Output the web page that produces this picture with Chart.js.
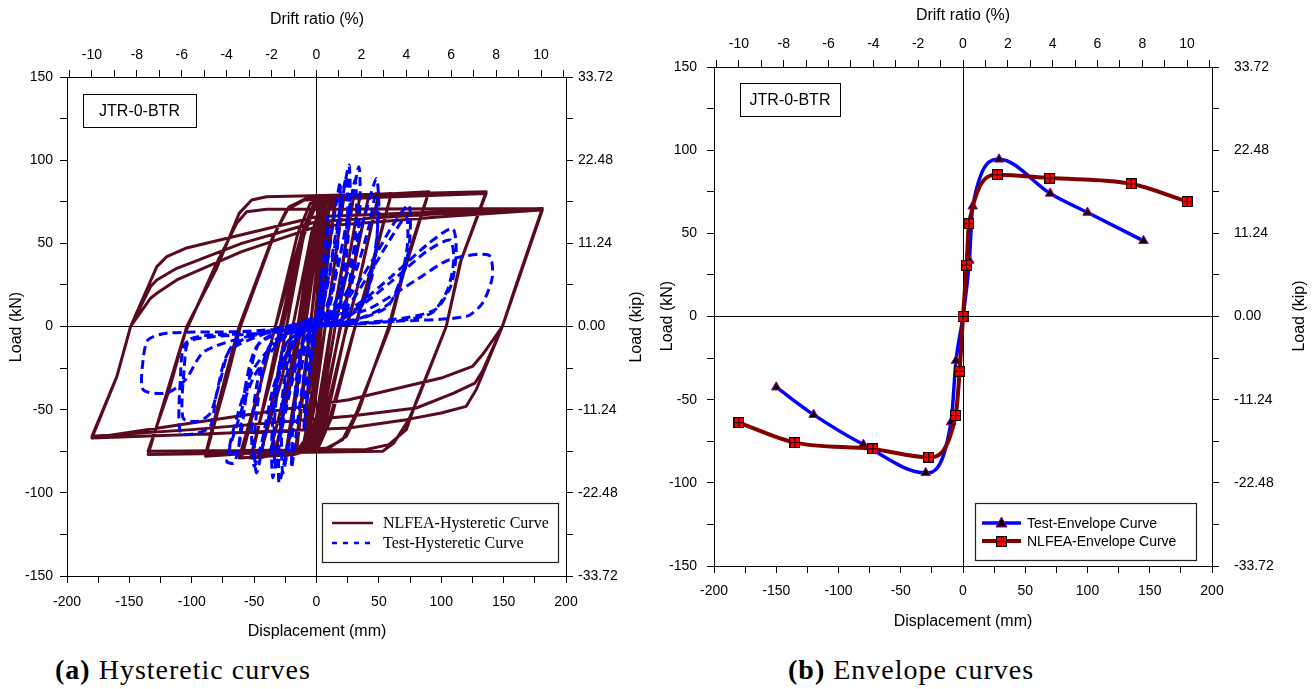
<!DOCTYPE html>
<html>
<head>
<meta charset="utf-8">
<script src="https://cdn.jsdelivr.net/npm/chart.js@4.4.1/dist/chart.umd.min.js"></script>
<style>
body { margin: 0; background: #fff; width: 1314px; height: 689px; position: relative; overflow: hidden; }
canvas { position: absolute; top: 0; }
#hyst { left: 0; }
#env { left: 655px; }
.cap { position: absolute; top: 654px; font-family: "Times New Roman", "Liberation Serif", serif; font-size: 28px; letter-spacing: 1px; color: #000; white-space: nowrap; }
</style>
</head>
<body>
<canvas id="hyst" width="655" height="650"></canvas>
<canvas id="env" width="659" height="650"></canvas>
<div class="cap" style="left:55px"><b>(a)</b> Hysteretic curves</div>
<div class="cap" style="left:788px"><b>(b)</b> Envelope curves</div>
<script>
// axis ticks
const dispTicks = [-200, -175, -150, -125, -100, -75, -50, -25, 0, 25, 50, 75, 100, 125, 150, 175, 200];
const dispLabels = [-200, -150, -100, -50, 0, 50, 100, 150, 200];
const loadTicks = [-150, -125, -100, -75, -50, -25, 0, 25, 50, 75, 100, 125, 150];
const loadLabels = [-150, -100, -50, 0, 50, 100, 150];
const driftTicks = [-11, -10, -9, -8, -7, -6, -5, -4, -3, -2, -1, 0, 1, 2, 3, 4, 5, 6, 7, 8, 9, 10, 11];
const driftLabels = [-10, -8, -6, -4, -2, 0, 2, 4, 6, 8, 10];
const kipTicks = [-33.72, -28.10, -22.48, -16.86, -11.24, -5.62, 0, 5.62, 11.24, 16.86, 22.48, 28.10, 33.72];
const kipLabels = [-33.72, -22.48, -11.24, 0, 11.24, 22.48, 33.72];
const mmPerDrift = 18;      // 10 % drift = 180 mm
const kipMax = 33.72;       // 150 kN

// (a) hysteretic curves, [displacement mm, load kN] in loading order
const nlfeaHyst = [
  [0,0],[3,25],[6,40],[3,15],[0,-5],[-3,-25],[-6,-40],
  [-3,-15],[0,5],[5,45],[10,62],[6,35],[2,0],[-3,-38],[-10,-62],
  [-6,-30],[-2,0],[5,50],[10,70],[15,75],[9,40],[4,0],[-3,-48],[-8,-68],[-16,-75],
  [-10,-35],[-5,0],[2,48],[7,68],[15,76],[8,35],[3,-5],[-5,-50],[-10,-69],[-17,-76],
  [-10,-30],[-5,0],[3,50],[9,71],[22,78],[13,30],[7,0],[-2,-50],[-8,-70],[-24,-78],
  [-15,-35],[-10,0],[-1,52],[5,72],[22,78],[12,25],[6,-5],[-4,-52],[-10,-71],[-25,-78],
  [-15,-30],[-9,0],[1,52],[8,73],[30,79],[19,28],[12,0],[2,-52],[-5,-71],[-33,-78],
  [-22,-33],[-15,0],[-4,55],[3,73],[30,79],[18,25],[11,-3],[0,-54],[-8,-72],[-34,-78],
  [-20,-32],[-12,0],[0,56],[7,74],[35,79],[23,28],[15,0],[3,-54],[-6,-72],[-38,-78],
  [-22,-30],[-14,0],[-2,55],[7,74],[42,79],[28,30],[19,0],[5,-55],[-4,-72],[-45,-79],
  [-32,-32],[-24,0],[-10,56],[-1,74],[42,79],[27,25],[18,-5],[3,-57],[-6,-73],[-46,-79],
  [-28,-32],[-19,0],[-4,56],[5,74],[50,80],[34,27],[24,0],[8,-56],[-2,-73],[-52,-79],
  [-38,-32],[-29,0],[-12,56],[-2,74],[50,80],[33,24],[23,-4],[6,-57],[-4,-73],[-53,-79],
  [-36,-30],[-27,0],[-10,55],[0,74],[18,78],[60,80],[42,30],[31,0],[12,-55],[2,-72],[-15,-76],[-60,-79],
  [-44,-32],[-33,0],[-15,56],[-5,74],[12,78],[60,80],[41,25],[29,-5],[10,-57],[0,-73],[-18,-77],[-62,-79],
  [-45,-35],[-33,0],[-14,50],[-4,70],[10,77],[90,81],[70,35],[58,0],[34,-50],[24,-66],[10,-73],[-89,-78],
  [-72,-32],[-61,0],[-34,55],[-22,72],[-8,77],[90,81],[69,30],[58,-2],[32,-52],[21,-68],[6,-74],[-89,-77],
  [-73,-30],[-62,0],[-36,52],[-24,70],[-10,76],[136,80],[116,40],[104,0],[80,-45],[72,-62],[58,-71],[40,-74],[-135,-75],
  [-118,-38],[-104,0],[-80,35],[-62,68],[-52,76],[-40,78],[136,81],[115,38],[104,0],[82,-42],[74,-56],[62,-70],[53,-75],[-135,-77],
  [-106,-5],[-82,35],[-64,62],[-56,69],[-40,70.5],[181,71],
  [160,25],[149,0],[133,-17],[125,-24],[100,-31],[26,-44],[-100,-58],[-180,-67],
  [-160,-30],[-149,0],[-128,36],[-120,42],[-105,47],[0,66],[100,69],[181,71],
  [160,25],[149,0],[133,-27],[127,-34],[110,-40],[80,-49],[26,-54],[-100,-62],[-180,-66],
  [-160,-30],[-149,0],[-133,24],[-128,28],[-112,35],[-60,50],[0,63],[100,68],[181,70],
  [160,24],[149,0],[128,-38],[120,-48],[100,-52],[72,-56],[26,-61],[-100,-65],[-180,-67],
  [-160,-30],[-149,0],[-133,17],[-128,20],[-112,28],[-60,45],[0,60],[100,66],[180,70]
];
const testHyst = [
  [0,0],[2,15],[4,34],[3,20],[0,3],[-2,-10],[-5,-26],[-4,-12],[0,0],
  [3,20],[7,50],[9,66],[8,40],[4,10],[0,0],[-4,-20],[-8,-48],[-10,-63],[-9,-40],[-5,-10],[0,0],
  [4,15],[10,45],[16,75],[19,87],[18,60],[14,25],[8,6],[0,0],[-6,-12],[-13,-45],[-18,-75],[-20,-85],[-19,-60],[-15,-25],[-8,-6],[0,2],
  [6,15],[14,45],[21,78],[26,97],[27,80],[25,50],[20,20],[12,6],[0,1],[-8,-10],[-16,-40],[-24,-75],[-30,-94],[-30,-70],[-27,-40],[-20,-12],[-8,-2],[0,3],
  [5,12],[12,40],[19,72],[24,90],[25,70],[22,40],[17,15],[10,4],[0,0],[-8,-10],[-15,-38],[-22,-70],[-27,-88],[-28,-65],[-25,-35],[-18,-10],[-8,-2],[0,3],
  [8,12],[18,40],[28,75],[34,96],[35,75],[32,45],[26,18],[15,5],[0,0],[-10,-8],[-20,-35],[-30,-70],[-35,-91],[-36,-70],[-33,-40],[-26,-12],[-12,-2],[0,4],
  [8,10],[17,35],[26,70],[31,88],[32,68],[29,40],[23,15],[13,4],[0,0],[-10,-7],[-20,-30],[-29,-65],[-33,-85],[-34,-62],[-31,-35],[-24,-10],[-10,-2],[0,4],
  [12,10],[26,35],[40,70],[48,89],[50,70],[46,40],[38,15],[22,5],[0,0],[-15,-6],[-30,-30],[-42,-68],[-48,-88],[-50,-70],[-46,-40],[-38,-12],[-20,-2],[0,5],
  [15,10],[30,30],[42,60],[47,78],[49,60],[45,32],[36,12],[20,4],[0,0],[-18,-8],[-34,-35],[-44,-70],[-50,-84],[-52,-62],[-47,-32],[-36,-10],[-18,-2],[0,5],
  [20,12],[45,40],[62,62],[74,73],[75,55],[71,35],[60,15],[35,5],[0,0],[-25,-6],[-50,-30],[-65,-62],[-72,-81],[-66,-82],[-62,-70],[-58,-40],[-48,-12],[-25,-2],[0,6],
  [22,10],[45,35],[62,56],[72,66],[73,50],[68,30],[57,12],[32,4],[0,0],[-25,-5],[-50,-25],[-64,-55],[-70,-75],[-64,-76],[-60,-62],[-55,-35],[-46,-10],[-25,-2],[0,5],
  [30,12],[60,30],[90,50],[109,59],[112,45],[108,25],[95,10],[60,4],[0,0],[-40,-4],[-80,-6],[-105,-10],[-109,-30],[-109,-64],[-95,-64],[-85,-60],[-80,-40],[-70,-15],[-40,-4],[0,5],
  [30,10],[60,27],[88,45],[107,52],[110,40],[105,22],[92,8],[60,3],[0,0],[-40,-4],[-80,-5],[-102,-8],[-106,-25],[-107,-55],[-95,-57],[-85,-52],[-78,-35],[-68,-12],[-40,-3],[0,4],
  [40,10],[80,28],[106,40],[138,43],[141,30],[133,14],[120,6],[60,3],[0,0],[-60,-3],[-120,-4],[-135,-8],[-139,-20],[-139,-38],[-120,-40],[-105,-32],[-90,-15],[-50,-5],[0,2]
];

// (b) envelope curves
const testEnvDisp = [-150, -120, -80, -30, -9.6, -5.6, 0, 5.1, 7.8, 29, 70, 100, 145];
const testEnvLoad = [-42.5, -59, -77, -94, -63.5, -26.5, 0, 33.7, 66.3, 94.5, 74, 62.5, 45.5];
const nlfeaEnvDisp = [-180, -135, -72.5, -27.5, -5.9, -2.7, 0, 2.9, 4.8, 27.6, 69.7, 135, 180];
const nlfeaEnvLoad = [-63.8, -75.8, -79.6, -84.6, -59.5, -32.9, 0, 30.9, 55.8, 85.2, 83.2, 79.8, 69.1];

const SANS = 'Arial, "Liberation Sans", sans-serif';
const SERIF = '"Times New Roman", "Liberation Serif", serif';
const MAROON = "#5a0a1e";
const DARKRED = "#800000";
const BLUE = "#0000ff";

const toPoints = (xs, ys) => xs.map((x, i) => ({ x: x, y: ys[i] }));
const pairs = list => list.map(p => ({ x: p[0], y: p[1] }));

function squareMarker() {
    const c = document.createElement("canvas");
    c.width = 11; c.height = 11;
    const g = c.getContext("2d");
    g.fillStyle = "#ff0000";
    g.fillRect(0, 0, 11, 11);
    g.strokeStyle = "#000";
    g.lineWidth = 1;
    g.strokeRect(0.5, 0.5, 10, 10);
    g.beginPath();
    g.moveTo(5.5, 1); g.lineTo(5.5, 10);
    g.moveTo(1, 5.5); g.lineTo(10, 5.5);
    g.stroke();
    return c;
}
const squareImg = squareMarker();

function fixedTicks(values) {
    return scale => { scale.ticks = values.map(v => ({ value: v })); };
}

function buildScales(o) {
    const tickFont = { family: SANS, size: 14 };
    const zeroLine = c => (c.tick && Math.abs(c.tick.value) < 1e-9) ? "#000" : "rgba(0,0,0,0)";
    const border = { display: true, color: "#000", width: 1 };
    return {
        x: {
            type: "linear", position: "bottom", min: -200, max: 200,
            afterBuildTicks: fixedTicks(dispTicks),
            afterFit: s => { s.height = o.bottom; },
            ticks: { autoSkip: false, maxRotation: 0, padding: o.padBottom, color: "#000", font: tickFont,
                callback: v => dispLabels.includes(v) ? String(v) : "" },
            grid: { drawOnChartArea: true, color: zeroLine, tickColor: "#000", tickLength: 7, lineWidth: 1 },
            border: border
        },
        x2: {
            type: "linear", position: "top", min: -200 / mmPerDrift, max: 200 / mmPerDrift,
            afterBuildTicks: fixedTicks(driftTicks),
            afterFit: s => { s.height = o.top; },
            ticks: { autoSkip: false, maxRotation: 0, padding: o.padTop, color: "#000", font: tickFont,
                callback: v => driftLabels.includes(v) ? String(v) : "" },
            grid: { drawOnChartArea: false, tickColor: "#000", tickLength: 7, lineWidth: 1 },
            border: border
        },
        y: {
            type: "linear", position: "left", min: -150, max: 150,
            afterBuildTicks: fixedTicks(loadTicks),
            afterFit: s => { s.width = o.left; },
            ticks: { autoSkip: false, padding: o.padLeft, color: "#000", font: tickFont,
                callback: v => loadLabels.includes(v) ? String(v) : "" },
            grid: { drawOnChartArea: true, color: zeroLine, tickColor: "#000", tickLength: 7, lineWidth: 1 },
            border: border
        },
        y2: {
            type: "linear", position: "right", min: -kipMax, max: kipMax,
            afterBuildTicks: fixedTicks(kipTicks),
            afterFit: s => { s.width = o.right; },
            ticks: { autoSkip: false, padding: o.padRight, color: "#000", font: tickFont,
                callback: v => kipLabels.includes(v) ? v.toFixed(2) : "" },
            grid: { drawOnChartArea: false, tickColor: "#000", tickLength: 7, lineWidth: 1 },
            border: border
        }
    };
}

// titles, the specimen tag and the legend box
const overlay = {
    id: "overlay",
    afterDraw(chart, args, o) {
        const g = chart.ctx;
        g.save();
        g.fillStyle = "#000";
        g.textAlign = "center";
        g.textBaseline = "middle";
        g.font = "16px " + SANS;
        for (const t of o.titles) {
            g.save();
            g.translate(t.x, t.y);
            if (t.rot) g.rotate(-Math.PI / 2);
            g.fillText(t.text, 0, 0);
            g.restore();
        }
        const tag = o.tag;
        g.strokeStyle = "#000";
        g.lineWidth = 1;
        g.strokeRect(tag.x + 0.5, tag.y + 0.5, tag.w, tag.h);
        g.font = "16px " + SANS;
        g.fillText("JTR-0-BTR", tag.x + tag.w / 2, tag.y + tag.h / 2 + 1);

        const L = o.legend;
        g.fillStyle = "#fff";
        g.fillRect(L.x, L.y, L.w, L.h);
        g.strokeStyle = "#222";
        g.lineWidth = 1.2;
        g.strokeRect(L.x + 0.5, L.y + 0.5, L.w, L.h);
        g.textAlign = "left";
        g.font = L.font;
        for (const it of L.items) {
            g.save();
            g.strokeStyle = it.color;
            g.lineWidth = it.width;
            g.setLineDash(it.dash || []);
            g.beginPath();
            g.moveTo(L.lineX0, it.y);
            g.lineTo(L.lineX1, it.y);
            g.stroke();
            g.restore();
            const mx = (L.lineX0 + L.lineX1) / 2;
            if (it.marker === "triangle") {
                g.fillStyle = "#000";
                g.strokeStyle = "#a000a0";
                g.lineWidth = 1;
                g.beginPath();
                g.moveTo(mx, it.y - 6);
                g.lineTo(mx + 5.5, it.y + 4);
                g.lineTo(mx - 5.5, it.y + 4);
                g.closePath();
                g.fill();
                g.stroke();
            } else if (it.marker === "square") {
                g.drawImage(squareImg, Math.round(mx - 5.5), Math.round(it.y - 5.5));
            }
            g.fillStyle = "#000";
            g.fillText(it.text, L.textX, it.y + 1);
        }
        g.restore();
    }
};

Chart.defaults.font.family = SANS;

new Chart(document.getElementById("hyst"), {
    type: "scatter",
    data: {
        datasets: [
            {
                label: "Test-Hysteretic Curve",
                data: pairs(testHyst),
                showLine: true, borderColor: BLUE, borderWidth: 3,
                borderDash: [9, 5], pointRadius: 0, tension: 0.25, fill: false,
                xAxisID: "x", yAxisID: "y", order: 0
            },
            {
                label: "NLFEA-Hysteretic Curve",
                data: pairs(nlfeaHyst),
                showLine: true, borderColor: MAROON, borderWidth: 3,
                pointRadius: 0, tension: 0, fill: false, borderJoinStyle: "round",
                xAxisID: "x", yAxisID: "y", order: 1
            }
        ]
    },
    options: {
        responsive: false, animation: false, devicePixelRatio: 1,
        layout: { padding: 0 },
        scales: buildScales({ left: 67, right: 89, top: 77, bottom: 74,
            padLeft: 7, padRight: 5, padTop: 6, padBottom: 11 }),
        plugins: {
            legend: { display: false },
            tooltip: { enabled: false },
            overlay: {
                titles: [
                    { text: "Drift ratio (%)", x: 317, y: 20 },
                    { text: "Displacement (mm)", x: 317, y: 632 },
                    { text: "Load (kN)", x: 17, y: 327, rot: true },
                    { text: "Load (kip)", x: 637, y: 327, rot: true }
                ],
                tag: { x: 83, y: 94, w: 113, h: 33 },
                legend: {
                    x: 322, y: 503, w: 236, h: 59, font: "16px " + SERIF,
                    lineX0: 332, lineX1: 373, textX: 383,
                    items: [
                        { text: "NLFEA-Hysteretic Curve", y: 523, color: MAROON, width: 2.6 },
                        { text: "Test-Hysteretic Curve", y: 543, color: BLUE, width: 2.6, dash: [5, 6] }
                    ]
                }
            }
        }
    },
    plugins: [overlay]
});

new Chart(document.getElementById("env"), {
    type: "scatter",
    data: {
        datasets: [
            {
                label: "Test-Envelope Curve",
                data: toPoints(testEnvDisp, testEnvLoad),
                showLine: true, borderColor: BLUE, borderWidth: 3.5,
                cubicInterpolationMode: "monotone", fill: false,
                pointStyle: "triangle", pointRadius: 5.5,
                pointBackgroundColor: "#000", pointBorderColor: "#a000a0", pointBorderWidth: 1,
                xAxisID: "x", yAxisID: "y", order: 1
            },
            {
                label: "NLFEA-Envelope Curve",
                data: toPoints(nlfeaEnvDisp, nlfeaEnvLoad),
                showLine: true, borderColor: DARKRED, borderWidth: 4,
                cubicInterpolationMode: "monotone", fill: false,
                pointStyle: squareImg, pointRadius: 5.5,
                xAxisID: "x", yAxisID: "y", order: 0
            }
        ]
    },
    options: {
        responsive: false, animation: false, devicePixelRatio: 1,
        layout: { padding: 0 },
        scales: buildScales({ left: 59, right: 102, top: 67, bottom: 84,
            padLeft: 10, padRight: 15, padTop: 7, padBottom: 10 }),
        plugins: {
            legend: { display: false },
            tooltip: { enabled: false },
            overlay: {
                titles: [
                    { text: "Drift ratio (%)", x: 308, y: 16 },
                    { text: "Displacement (mm)", x: 308, y: 622 },
                    { text: "Load (kN)", x: 13, y: 316, rot: true },
                    { text: "Load (kip)", x: 645, y: 316, rot: true }
                ],
                tag: { x: 85, y: 83, w: 100, h: 33 },
                legend: {
                    x: 320, y: 503, w: 221, h: 57, font: "14px " + SANS,
                    lineX0: 327, lineX1: 366, textX: 372,
                    items: [
                        { text: "Test-Envelope Curve", y: 523, color: BLUE, width: 3.5, marker: "triangle" },
                        { text: "NLFEA-Envelope Curve", y: 541, color: DARKRED, width: 4, marker: "square" }
                    ]
                }
            }
        }
    },
    plugins: [overlay]
});
</script>
</body>
</html>
